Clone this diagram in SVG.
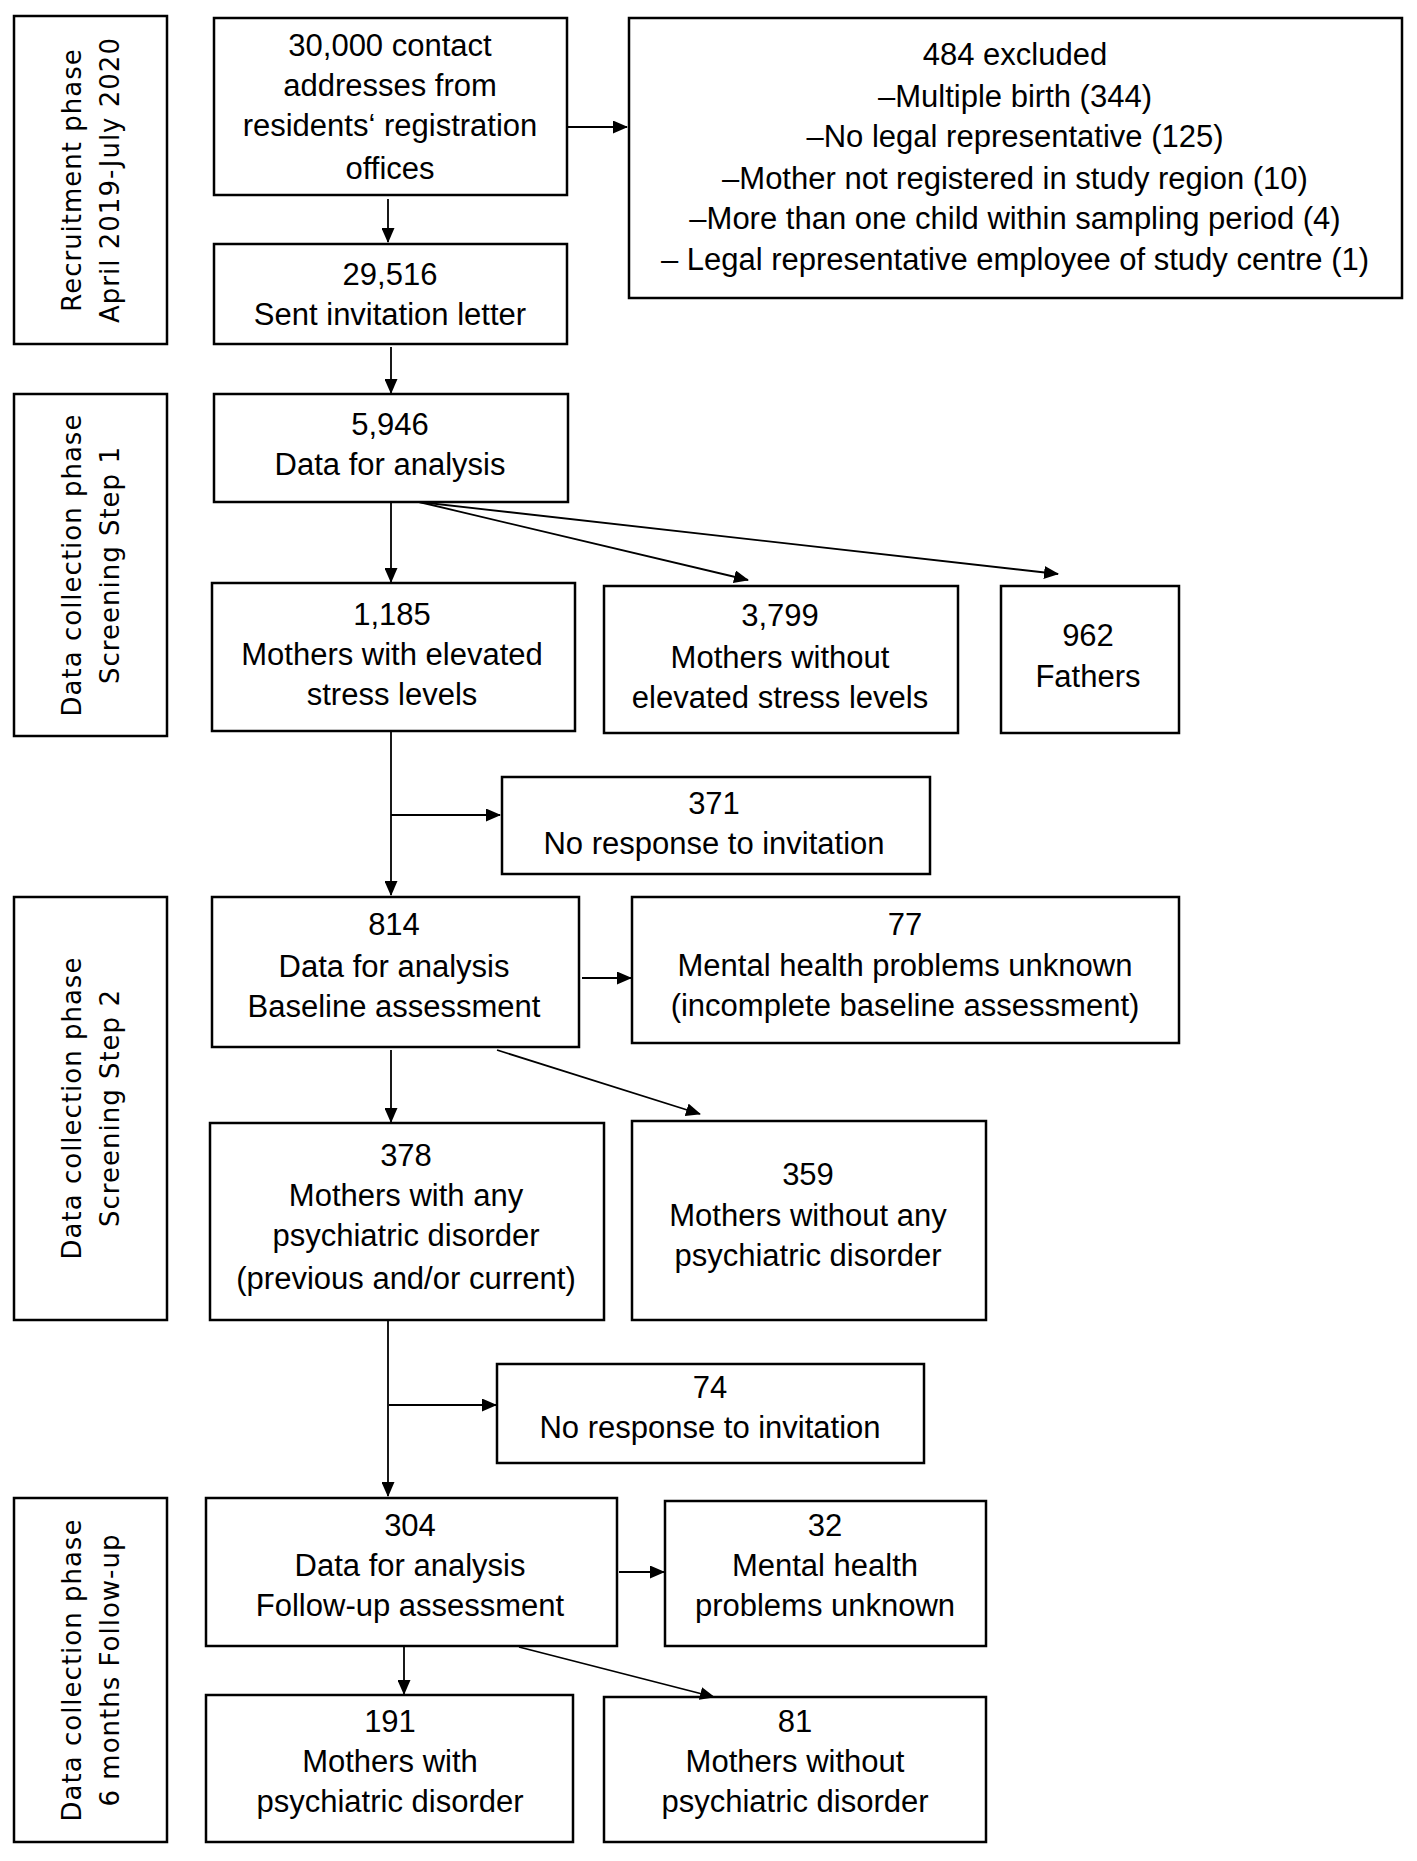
<svg xmlns="http://www.w3.org/2000/svg" width="1417" height="1861" viewBox="0 0 1417 1861">
<style>
.box{fill:#fff;stroke:#000;stroke-width:2.5}
.t{font-family:"Liberation Sans",Arial,sans-serif;font-size:31px;text-anchor:middle;fill:#000}
.p{font-family:"DejaVu Sans",Verdana,sans-serif;font-size:26px;text-anchor:middle;fill:#000;letter-spacing:1px}
.c{stroke:#000;stroke-width:1.8;fill:none}
</style>
<defs>
<marker id="ah" markerWidth="15" markerHeight="13" refX="14" refY="6.5" orient="auto" markerUnits="userSpaceOnUse">
<path d="M0,0 L15,6.5 L0,13 z" fill="#000"/>
</marker>
</defs>
<rect width="1417" height="1861" fill="#fff"/>

<g id="phase1"><rect class="box" x="14" y="16" width="153" height="328"/>
<text class="p" transform="translate(81 180) rotate(-90)">Recruitment phase</text>
<text class="p" transform="translate(119 180) rotate(-90)">April 2019-July 2020</text></g>

<g id="phase2"><rect class="box" x="14" y="394" width="153" height="342"/>
<text class="p" transform="translate(81 565) rotate(-90)">Data collection phase</text>
<text class="p" transform="translate(119 565) rotate(-90)">Screening Step 1</text></g>

<g id="phase3"><rect class="box" x="14" y="897" width="153" height="423"/>
<text class="p" transform="translate(81 1108) rotate(-90)">Data collection phase</text>
<text class="p" transform="translate(119 1108) rotate(-90)">Screening Step 2</text></g>

<g id="phase4"><rect class="box" x="14" y="1498" width="153" height="344"/>
<text class="p" transform="translate(81 1670) rotate(-90)">Data collection phase</text>
<text class="p" transform="translate(119 1670) rotate(-90)">6 months Follow-up</text></g>

<g id="n30000"><rect class="box" x="214" y="18" width="353" height="177"/>
<text class="t" x="390" y="56">30,000 contact</text>
<text class="t" x="390" y="96">addresses from</text>
<text class="t" x="390" y="136">residents‘ registration</text>
<text class="t" x="390" y="179">offices</text></g>

<g id="n484"><rect class="box" x="629" y="18" width="773" height="280"/>
<text class="t" x="1015" y="65">484 excluded</text>
<text class="t" x="1015" y="107">–Multiple birth (344)</text>
<text class="t" x="1015" y="147">–No legal representative (125)</text>
<text class="t" x="1015" y="189">–Mother not registered in study region (10)</text>
<text class="t" x="1015" y="229">–More than one child within sampling period (4)</text>
<text class="t" x="1015" y="270">– Legal representative employee of study centre (1)</text></g>

<g id="n29516"><rect class="box" x="214" y="244" width="353" height="100"/>
<text class="t" x="390" y="285">29,516</text>
<text class="t" x="390" y="325">Sent invitation letter</text></g>

<g id="n5946"><rect class="box" x="214" y="394" width="354" height="108"/>
<text class="t" x="390" y="435">5,946</text>
<text class="t" x="390" y="475">Data for analysis</text></g>

<g id="n1185"><rect class="box" x="212" y="583" width="363" height="148"/>
<text class="t" x="392" y="625">1,185</text>
<text class="t" x="392" y="665">Mothers with elevated</text>
<text class="t" x="392" y="705">stress levels</text></g>

<g id="n3799"><rect class="box" x="604" y="586" width="354" height="147"/>
<text class="t" x="780" y="626">3,799</text>
<text class="t" x="780" y="668">Mothers without</text>
<text class="t" x="780" y="708">elevated stress levels</text></g>

<g id="n962"><rect class="box" x="1001" y="586" width="178" height="147"/>
<text class="t" x="1088" y="646">962</text>
<text class="t" x="1088" y="687">Fathers</text></g>

<g id="n371"><rect class="box" x="502" y="777" width="428" height="97"/>
<text class="t" x="714" y="814">371</text>
<text class="t" x="714" y="854">No response to invitation</text></g>

<g id="n814"><rect class="box" x="212" y="897" width="367" height="150"/>
<text class="t" x="394" y="935">814</text>
<text class="t" x="394" y="977">Data for analysis</text>
<text class="t" x="394" y="1017">Baseline assessment</text></g>

<g id="n77"><rect class="box" x="632" y="897" width="547" height="146"/>
<text class="t" x="905" y="935">77</text>
<text class="t" x="905" y="976">Mental health problems unknown</text>
<text class="t" x="905" y="1016">(incomplete baseline assessment)</text></g>

<g id="n378"><rect class="box" x="210" y="1123" width="394" height="197"/>
<text class="t" x="406" y="1166">378</text>
<text class="t" x="406" y="1206">Mothers with any</text>
<text class="t" x="406" y="1246">psychiatric disorder</text>
<text class="t" x="406" y="1289">(previous and/or current)</text></g>

<g id="n359"><rect class="box" x="632" y="1121" width="354" height="199"/>
<text class="t" x="808" y="1185">359</text>
<text class="t" x="808" y="1226">Mothers without any</text>
<text class="t" x="808" y="1266">psychiatric disorder</text></g>

<g id="n74"><rect class="box" x="497" y="1364" width="427" height="99"/>
<text class="t" x="710" y="1398">74</text>
<text class="t" x="710" y="1438">No response to invitation</text></g>

<g id="n304"><rect class="box" x="206" y="1498" width="411" height="148"/>
<text class="t" x="410" y="1536">304</text>
<text class="t" x="410" y="1576">Data for analysis</text>
<text class="t" x="410" y="1616">Follow-up assessment</text></g>

<g id="n32"><rect class="box" x="665" y="1501" width="321" height="145"/>
<text class="t" x="825" y="1536">32</text>
<text class="t" x="825" y="1576">Mental health</text>
<text class="t" x="825" y="1616">problems unknown</text></g>

<g id="n191"><rect class="box" x="206" y="1695" width="367" height="147"/>
<text class="t" x="390" y="1732">191</text>
<text class="t" x="390" y="1772">Mothers with</text>
<text class="t" x="390" y="1812">psychiatric disorder</text></g>

<g id="n81"><rect class="box" x="604" y="1697" width="382" height="145"/>
<text class="t" x="795" y="1732">81</text>
<text class="t" x="795" y="1772">Mothers without</text>
<text class="t" x="795" y="1812">psychiatric disorder</text></g>

<g id="connectors">
<line class="c" x1="567" y1="127" x2="627" y2="127" marker-end="url(#ah)"/>
<line class="c" x1="388" y1="199" x2="388" y2="242" marker-end="url(#ah)"/>
<line class="c" x1="391" y1="347" x2="391" y2="393" marker-end="url(#ah)"/>
<line class="c" x1="391" y1="502" x2="391" y2="582" marker-end="url(#ah)"/>
<line class="c" x1="419" y1="502" x2="748" y2="580" marker-end="url(#ah)"/>
<line class="c" x1="419" y1="502" x2="1058" y2="574" marker-end="url(#ah)"/>
<line class="c" x1="391" y1="731" x2="391" y2="895" marker-end="url(#ah)"/>
<line class="c" x1="391" y1="815" x2="500" y2="815" marker-end="url(#ah)"/>
<line class="c" x1="582" y1="978" x2="631" y2="978" marker-end="url(#ah)"/>
<line class="c" x1="391" y1="1050" x2="391" y2="1122" marker-end="url(#ah)"/>
<line class="c" x1="497" y1="1050" x2="700" y2="1114" marker-end="url(#ah)"/>
<line class="c" x1="388" y1="1321" x2="388" y2="1496" marker-end="url(#ah)"/>
<line class="c" x1="389" y1="1405" x2="496" y2="1405" marker-end="url(#ah)"/>
<line class="c" x1="619" y1="1572" x2="664" y2="1572" marker-end="url(#ah)"/>
<line class="c" x1="404" y1="1647" x2="404" y2="1694" marker-end="url(#ah)"/>
<line class="c" x1="519" y1="1647" x2="714" y2="1697" marker-end="url(#ah)"/>
</g>
</svg>
